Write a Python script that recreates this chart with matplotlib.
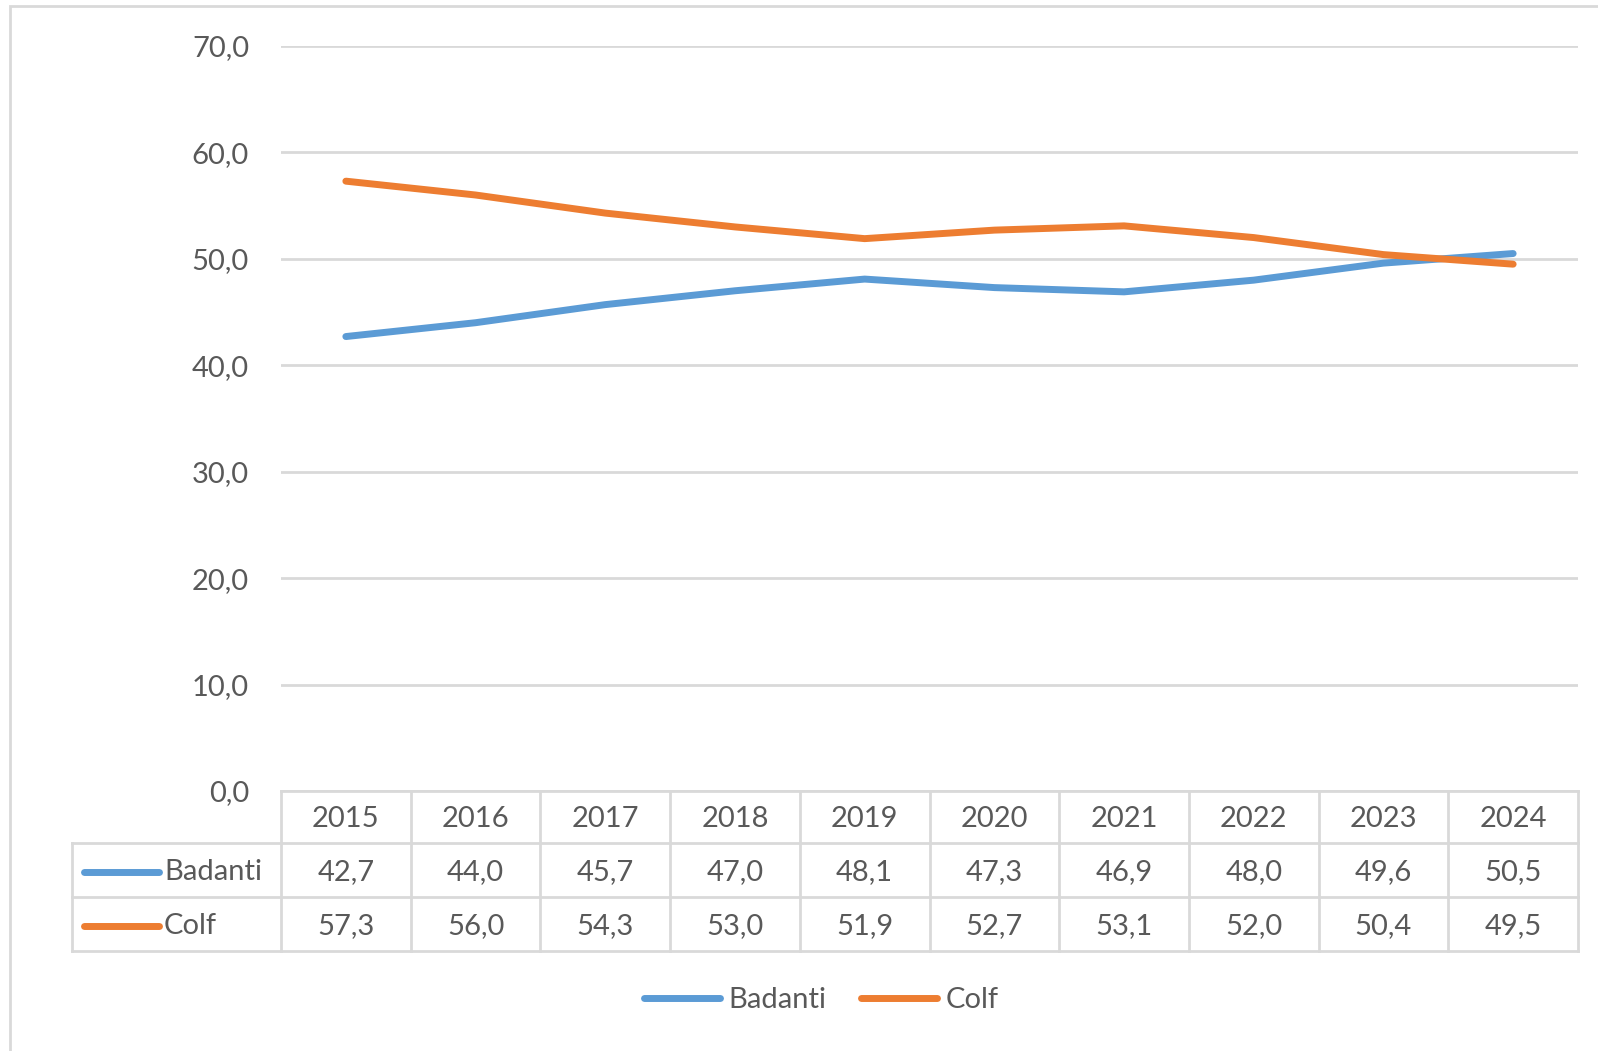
import matplotlib
matplotlib.use('Agg')
import matplotlib.pyplot as plt
import matplotlib.transforms as mtransforms
from matplotlib.lines import Line2D
from matplotlib.patches import Rectangle

years = ['2015', '2016', '2017', '2018', '2019', '2020', '2021', '2022', '2023', '2024']
badanti = [42.7, 44.0, 45.7, 47.0, 48.1, 47.3, 46.9, 48.0, 49.6, 50.5]
colf = [57.3, 56.0, 54.3, 53.0, 51.9, 52.7, 53.1, 52.0, 50.4, 49.5]
series_names = ['Badanti', 'Colf']
series_colors = ['#5B9BD5', '#ED7D31']
yticks = [0, 10, 20, 30, 40, 50, 60, 70]

plt.rcParams['font.family'] = ['Lato', 'DejaVu Sans']
txt = '#595959'
grid = '#D9D9D9'
fs = 21

W, H = 1598, 1051
fig = plt.figure(figsize=(W / 100, H / 100), dpi=100)

def fx(p):
    return p / W

def fy(p):
    return 1 - p / H

# outer chart border
fig.add_artist(Rectangle((fx(10), fy(1080)), fx(1640) - fx(10), fy(6) - fy(1080),
                         transform=fig.transFigure, fill=False, edgecolor=grid, lw=2))

ax = fig.add_axes([fx(281), fy(791), fx(1578) - fx(281), fy(46) - fy(791)])
x = range(len(years))
all_series = [badanti, colf]
for vals, name, col in zip(all_series, series_names, series_colors):
    ax.plot(x, vals, color=col, lw=5, solid_capstyle='round', label=name, zorder=3)

ax.set_xlim(-0.5, len(years) - 0.5)
ax.set_ylim(0, 70)
ax.set_yticks(yticks)
ax.set_yticklabels([f'{v:.1f}'.replace('.', ',') for v in yticks], color=txt, fontsize=fs)
ax.tick_params(axis='y', length=0, pad=23)
ax.set_xticks([])
ax.yaxis.grid(True, color=grid, lw=2)
ax.set_axisbelow(True)
for s in ax.spines.values():
    s.set_visible(False)

# data table under the axis
trans = mtransforms.blended_transform_factory(ax.transData, fig.transFigure)
row_edges = [791, 843, 897, 951]
x0, x1 = -0.5, len(years) - 0.5
label_left = fx(72)

def hline(xa, xb, yy, tr):
    fig.add_artist(Line2D([xa, xb], [fy(yy), fy(yy)], transform=tr, color=grid, lw=2))

def vline(xx, ya, yb, tr):
    fig.add_artist(Line2D([xx, xx], [fy(ya), fy(yb)], transform=tr, color=grid, lw=2))

hline(x0, x1, row_edges[0], trans)
for yy in row_edges[1:]:
    fig.add_artist(Line2D([label_left, fx(281)], [fy(yy), fy(yy)],
                          transform=fig.transFigure, color=grid, lw=2))
    hline(x0, x1, yy, trans)
for i in range(len(years) + 1):
    vline(i - 0.5, row_edges[0], row_edges[-1], trans)
fig.add_artist(Line2D([label_left, label_left], [fy(row_edges[1]), fy(row_edges[-1])],
                      transform=fig.transFigure, color=grid, lw=2))

def rowc(k):
    return fy((row_edges[k] + row_edges[k + 1]) / 2 + 2)

for i, yr in enumerate(years):
    ax.text(i, rowc(0), yr, transform=trans, ha='center', va='center', color=txt, fontsize=fs)
for r, (vals, name, col) in enumerate(zip(all_series, series_names, series_colors)):
    yc = rowc(r + 1)
    for i, v in enumerate(vals):
        ax.text(i, yc, f'{v:.1f}'.replace('.', ','), transform=trans, ha='center',
                va='center', color=txt, fontsize=fs)
    fig.add_artist(Line2D([fx(84), fx(159)], [yc, yc], transform=fig.transFigure,
                          color=col, lw=5, solid_capstyle='round'))
    fig.text(fx(164), yc, name, ha='left', va='center', color=txt, fontsize=fs)

fig.legend(loc='center', bbox_to_anchor=(0.514, fy(1000)), ncol=2, frameon=False,
           fontsize=fs, handlelength=2.6, handletextpad=0.3, columnspacing=1.2,
           labelcolor=txt)

fig.savefig('out.png', dpi=100)
